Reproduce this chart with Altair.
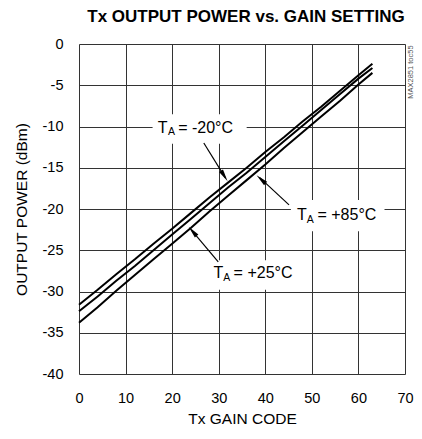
import altair as alt
import pandas as pd

FONT = "Liberation Sans, Arial, sans-serif"

# ---- data ----
gain = [0, 4, 8, 12, 16, 20, 24, 28, 32, 36, 40, 44, 48, 52, 56, 60, 63]
p_m20 = [-31.6, -29.8, -27.9, -26.1, -24.2, -22.4, -20.5, -18.6, -16.8, -15.0,
         -13.1, -11.3, -9.4, -7.6, -5.7, -3.8, -2.4]
p_25 = [-32.4, -30.6, -28.7, -26.9, -25.0, -23.1, -21.2, -19.3, -17.4, -15.6,
        -13.7, -11.8, -9.9, -8.0, -6.1, -4.2, -2.9]
p_85 = [-33.8, -31.9, -29.9, -28.0, -26.1, -24.2, -22.3, -20.3, -18.4, -16.5,
        -14.6, -12.6, -10.7, -8.8, -6.9, -4.9, -3.5]

x_ticks = [0, 10, 20, 30, 40, 50, 60, 70]
y_ticks = [-40, -35, -30, -25, -20, -15, -10, -5, 0]

# annotation labels (data coordinates)
lab_names = ["-20", "+85", "+25"]
lab_T_x = [16.9, 46.8, 28.9]
lab_T_y = [-10.2, -20.7, -27.8]
lab_A_x = [19.1, 48.9, 31.0]
lab_A_y = [-10.7, -21.3, -28.4]
lab_rest_x = [21.3, 51.2, 33.2]
lab_rest = ["= -20°C", "= +85°C", "= +25°C"]
box_x1 = [15.8, 45.5, 27.8]
box_x2 = [36.0, 65.6, 46.4]
box_y1 = [-8.5, -18.9, -26.2]
box_y2 = [-12.1, -22.7, -29.8]
arr_x1 = [26.8, 45.1, 29.9]
arr_y1 = [-12.0, -19.5, -26.4]
arr_x2 = [31.4, 38.8, 24.2]
arr_y2 = [-16.2, -16.2, -22.6]
head_x = [31.2, 39.1, 24.4]
head_y = [-16.0, -16.4, -22.7]
head_angle = [147.7, 312.3, 319.4]

# ---- tables ----
rows = []
for name, series in [("-20", p_m20), ("+25", p_25), ("+85", p_85)]:
    for g, p in zip(gain, series):
        rows.append({"gain": g, "power": p, "temp": name})
lines_df = pd.DataFrame(rows)

ann = pd.DataFrame({
    "name": lab_names, "tx": lab_T_x, "ty": lab_T_y, "ax": lab_A_x, "ay": lab_A_y,
    "rx": lab_rest_x, "rest": lab_rest,
    "bx1": box_x1, "bx2": box_x2, "by1": box_y1, "by2": box_y2,
    "x1": arr_x1, "y1": arr_y1, "x2": arr_x2, "y2": arr_y2,
    "hx": head_x, "hy": head_y, "ha": head_angle,
})

xs = alt.Scale(domain=[0, 70], nice=False, zero=False)
ys = alt.Scale(domain=[-40, 0], nice=False, zero=False)

base = alt.Chart(lines_df)

lines = base.mark_line(color="black", strokeWidth=2).encode(
    x=alt.X("gain:Q", scale=xs,
            axis=alt.Axis(values=x_ticks, title="Tx GAIN CODE", grid=True,
                          gridColor="#333", gridWidth=1, domain=False, ticks=False,
                          labelFontSize=14.5, labelPadding=17, titleFontSize=15.5,
                          titleFontWeight="normal", titlePadding=7,
                          labelColor="black", titleColor="black",
                          labelExpr="toString(datum.value)",
                          labelFont=FONT, titleFont=FONT, labelFlush=False)),
    y=alt.Y("power:Q", scale=ys,
            axis=alt.Axis(values=y_ticks, title="OUTPUT POWER (dBm)", grid=True,
                          gridColor="#333", gridWidth=1, domain=False, ticks=False,
                          labelFontSize=14.5, labelPadding=16, titleFontSize=15.5,
                          titleFontWeight="normal", titlePadding=13,
                          labelColor="black", titleColor="black",
                          labelExpr="toString(datum.value)",
                          labelFont=FONT, titleFont=FONT, labelFlush=False)),
    detail="temp:N",
)

annb = alt.Chart(ann)
boxes = annb.mark_rect(fill="white").encode(
    x=alt.X("bx1:Q", scale=xs), x2="bx2:Q",
    y=alt.Y("by1:Q", scale=ys), y2="by2:Q",
)
arrows = annb.mark_rule(color="black", strokeWidth=1.2).encode(
    x=alt.X("x1:Q", scale=xs), x2="x2:Q",
    y=alt.Y("y1:Q", scale=ys), y2="y2:Q",
)
heads = annb.mark_point(shape="M0,-1L0.38,1L-0.38,1Z", filled=True, color="black",
                        size=150, opacity=1).encode(
    x=alt.X("hx:Q", scale=xs), y=alt.Y("hy:Q", scale=ys), angle=alt.Angle("ha:Q", scale=None),
)
t_txt = annb.mark_text(align="left", baseline="middle", fontSize=16, font=FONT,
                       color="black").encode(
    x=alt.X("tx:Q", scale=xs), y=alt.Y("ty:Q", scale=ys), text=alt.value("T"),
)
a_txt = annb.mark_text(align="left", baseline="middle", fontSize=10.5, font=FONT,
                       color="black").encode(
    x=alt.X("ax:Q", scale=xs), y=alt.Y("ay:Q", scale=ys), text=alt.value("A"),
)
r_txt = annb.mark_text(align="left", baseline="middle", fontSize=16, font=FONT,
                       color="black").encode(
    x=alt.X("rx:Q", scale=xs), y=alt.Y("ty:Q", scale=ys), text="rest:N",
)

tag_df = pd.DataFrame({"x": [71.2], "y": [-3.4], "t": ["MAX2851 toc55"]})
tag = alt.Chart(tag_df).mark_text(angle=270, fontSize=7.5, font=FONT,
                                  color="#555", align="center", baseline="middle").encode(
    x=alt.X("x:Q", scale=xs), y=alt.Y("y:Q", scale=ys), text="t:N",
)

chart = alt.layer(boxes, lines, arrows, heads, t_txt, a_txt, r_txt, tag).properties(
    width=326, height=330,
    title=alt.Title("Tx OUTPUT POWER vs. GAIN SETTING", fontSize=17, font=FONT,
                    fontWeight="bold", color="black", anchor="middle", offset=10, dx=4),
    autosize=alt.AutoSizeParams(type="none"),
    padding={"left": 71, "top": 36, "right": 9, "bottom": 52},
).configure_view(stroke="black", strokeWidth=3).configure(background="white")

chart.save("out.html", embed_options={"renderer": "svg", "actions": False})
